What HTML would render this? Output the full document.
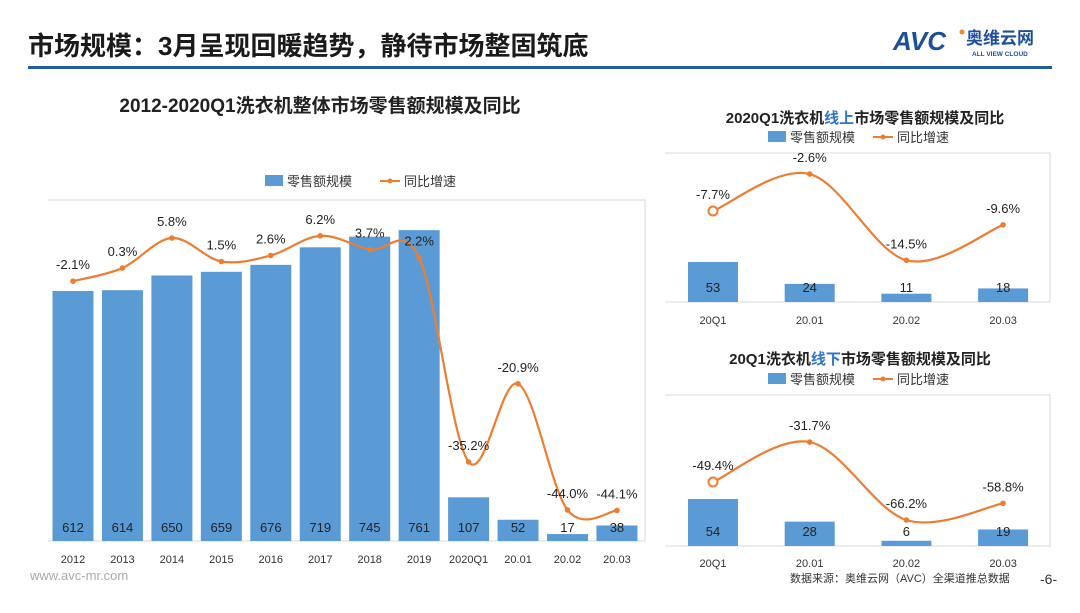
<!DOCTYPE html>
<html><head><meta charset="utf-8">
<style>
html,body{margin:0;padding:0;background:#fff;}
body{width:1080px;height:608px;overflow:hidden;position:relative;font-family:"Liberation Sans","Noto Sans CJK SC",sans-serif;}
svg text{font-family:"Liberation Sans","Noto Sans CJK SC",sans-serif;}
</style></head>
<body>
<svg id="s" width="1080" height="608" viewBox="0 0 1080 608" xmlns="http://www.w3.org/2000/svg">
  <text x="28" y="55" font-size="26" font-weight="bold" fill="#1a1a1a">市场规模：3月呈现回暖趋势，静待市场整固筑底</text>
  <rect x="28" y="66" width="1024" height="3" fill="#1f5f9f"/>
  <g>
    <text x="893" y="50" font-size="26" font-weight="bold" font-style="italic" fill="#1d4f9a">AVC</text>
    <circle cx="962" cy="32" r="2.5" fill="#f08a24"/>
    <text x="966" y="44" font-size="17" font-weight="bold" fill="#1d4f9a">奥维云网</text>
    <text x="972" y="56" font-size="6.5" font-weight="bold" fill="#1d4f9a">ALL VIEW CLOUD</text>
  </g>
  <text x="320" y="112" text-anchor="middle" font-size="19" font-weight="bold" fill="#222">2012-2020Q1洗衣机整体市场零售额规模及同比</text>
  <text x="865" y="123" text-anchor="middle" font-size="15" font-weight="bold" fill="#222">2020Q1洗衣机<tspan fill="#2e75c8">线上</tspan>市场零售额规模及同比</text>
  <text x="860" y="364" text-anchor="middle" font-size="15" font-weight="bold" fill="#222">20Q1洗衣机<tspan fill="#2e75c8">线下</tspan>市场零售额规模及同比</text>
  <text x="30" y="580" font-size="13" fill="#aaa">www.avc-mr.com</text>
  <text x="790" y="582" font-size="11" fill="#333">数据来源：奥维云网（AVC）全渠道推总数据</text>
  <text x="1040" y="584" font-size="14" fill="#333">-6-</text>
</svg>
<script>
// Main chart data
const mainCats = ['2012','2013','2014','2015','2016','2017','2018','2019','2020Q1','20.01','20.02','20.03'];
const mainSales = [612,614,650,659,676,719,745,761,107,52,17,38];
const mainGrowth = [-2.1,0.3,5.8,1.5,2.6,6.2,3.7,2.2,-35.2,-20.9,-44.0,-44.1];
// Online chart data
const onCats = ['20Q1','20.01','20.02','20.03'];
const onSales = [53,24,11,18];
const onGrowth = [-7.7,-2.6,-14.5,-9.6];
// Offline chart data
const offCats = ['20Q1','20.01','20.02','20.03'];
const offSales = [54,28,6,19];
const offGrowth = [-49.4,-31.7,-66.2,-58.8];

const NS='http://www.w3.org/2000/svg';
const svg=document.getElementById('s');
function mk(tag,attrs,parent){const e=document.createElementNS(NS,tag);for(const k in attrs)e.setAttribute(k,attrs[k]);(parent||svg).appendChild(e);return e;}

function smooth(pts){
  let d='M'+pts[0][0]+','+pts[0][1];
  for(let i=0;i<pts.length-1;i++){
    const p0=pts[i-1]||pts[i],p1=pts[i],p2=pts[i+1],p3=pts[i+2]||p2;
    const t=0.5/3*2;
    const c1=[p1[0]+(p2[0]-p0[0])*t/2,p1[1]+(p2[1]-p0[1])*t/2];
    const c2=[p2[0]-(p3[0]-p1[0])*t/2,p2[1]-(p3[1]-p1[1])*t/2];
    d+=' C'+c1[0]+','+c1[1]+' '+c2[0]+','+c2[1]+' '+p2[0]+','+p2[1];
  }
  return d;
}

function chart(o){
  const g=mk('g',{});
  
  
  // plot box
  const box=mk('path',{d:`M${o.left},${o.top} H${o.right} V${o.base} H${o.left}`,fill:'none',stroke:'#d9d9d9','stroke-width':1},g);
  
  
  const xs=i=>o.x0+i*o.step;
  const ySale=v=>o.base-v*o.sScale;
  const yG=v=>o.gZero-v*o.gScale;
  // legend
  const lg=mk('g',{},g);
  
  
  mk('rect',{x:o.legX,y:o.legY-6,width:18,height:11,fill:'#5b9bd5'},lg);
  mk('text',{x:o.legX+22,y:o.legY+5,'font-size':o.legFs,fill:'#333'},lg).textContent='零售额规模';
  mk('line',{x1:o.legX+o.legGap,y1:o.legY,x2:o.legX+o.legGap+20,y2:o.legY,stroke:'#ed7d31','stroke-width':2},lg);
  mk('circle',{cx:o.legX+o.legGap+10,cy:o.legY,r:2.5,fill:'#ed7d31'},lg);
  mk('text',{x:o.legX+o.legGap+24,y:o.legY+5,'font-size':o.legFs,fill:'#333'},lg).textContent='同比增速';
  // bars
  o.sales.forEach((v,i)=>{
    const r=mk('rect',{x:xs(i)-o.bw/2,y:ySale(v),width:o.bw,height:v*o.sScale,fill:'#5b9bd5'},g);
    
    
    const t=mk('text',{x:xs(i),y:o.valY,'text-anchor':'middle','font-size':o.fs,fill:'#222'},g);
    
    
    t.textContent=v;
    const c=mk('text',{x:xs(i),y:o.catY,'text-anchor':'middle','font-size':o.catFs,fill:'#333'},g);
    
    
    c.textContent=o.cats[i];
  });
  // line
  const pts=o.growth.map((v,i)=>[xs(i),yG(v)]);
  const p=mk('path',{d:smooth(pts),fill:'none',stroke:'#ed7d31','stroke-width':2.2},g);
  
  
  o.growth.forEach((v,i)=>{
    const hollow=o.hollowFirst&&i===0;
    const m=mk('circle',{cx:pts[i][0],cy:pts[i][1],r:hollow?4.5:2.8,fill:hollow?'#fff':'#ed7d31',stroke:'#ed7d31','stroke-width':hollow?2:0},g);
    
    
    const t=mk('text',{x:pts[i][0],y:pts[i][1]-o.lblOff,'text-anchor':'middle','font-size':o.fs,fill:'#222'},g);
    
    
    t.textContent=v.toFixed(1)+'%';
  });
}

chart({name:'main-chart',cats:mainCats,sales:mainSales,growth:mainGrowth,left:48,top:200,right:645,base:541,
  x0:73,step:49.45,bw:41,sScale:0.4085,gZero:269.7,gScale:5.46,valY:532,catY:563,fs:13,catFs:11,lblOff:12,
  legX:265,legY:181,legGap:115,legFs:13,hollowFirst:false});
chart({name:'online-chart',cats:onCats,sales:onSales,growth:onGrowth,left:665,top:153,right:1050,base:302,
  x0:713,step:96.7,bw:50,sScale:0.755,gZero:155.2,gScale:7.25,valY:292,catY:324,fs:13,catFs:11,lblOff:12,
  legX:768,legY:137,legGap:105,legFs:13,hollowFirst:true});
chart({name:'offline-chart',cats:offCats,sales:offSales,growth:offGrowth,left:665,top:395,right:1050,base:546,
  x0:713,step:96.7,bw:50,sScale:0.87,gZero:370.4,gScale:2.26,valY:536,catY:567,fs:13,catFs:11,lblOff:12,
  legX:768,legY:379,legGap:105,legFs:13,hollowFirst:true});
</script>
</body></html>
